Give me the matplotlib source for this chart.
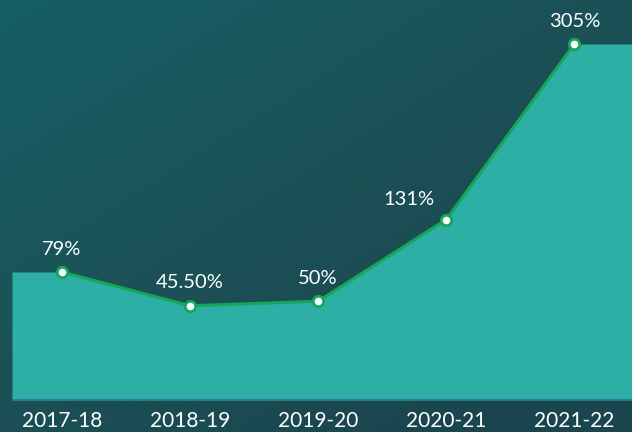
import matplotlib
matplotlib.use("Agg")
import matplotlib.pyplot as plt
import numpy as np
from matplotlib.colors import LinearSegmentedColormap

categories = ["2017-18", "2018-19", "2019-20", "2020-21", "2021-22"]
values = [79, 45.5, 50, 131, 305]
labels = ["79%", "45.50%", "50%", "131%", "305%"]

W, H = 632, 432
fig = plt.figure(figsize=(W / 100, H / 100), dpi=100)

# background gradient
bg = fig.add_axes([0, 0, 1, 1])
bg.set_axis_off()
yy, xx = np.mgrid[0:1:200j, 0:1:300j]
t = np.clip(0.55 * xx + 0.6 * yy, 0, 1)
cmap = LinearSegmentedColormap.from_list("bg", ["#155f65", "#1b5257", "#1b454e"])
bg.imshow(t, cmap=cmap, aspect="auto", extent=[0, 1, 0, 1], origin="upper")
bg.set_xlim(0, 1)
bg.set_ylim(0, 1)

ax = fig.add_axes([12 / W, 32 / H, 1 - 12 / W, 400 / H])
ax.patch.set_alpha(0)
x = np.arange(len(categories))
xmin, xmax = -0.39, 4.45
ymin, ymax = -47.9, 348.6
ax.set_xlim(xmin, xmax)
ax.set_ylim(ymin, ymax)

xs = np.concatenate([[xmin], x, [xmax]])
ys = np.concatenate([[values[0]], values, [values[-1]]])
ax.fill_between(xs, ys, ymin, color="#2eafa6", lw=0, zorder=1)
ax.plot(x, values, color="#16a658", lw=2.2, zorder=3,
        marker="o", ms=7.5, mfc="white", mec="#16a658", mew=2)
ax.axhline(ymin, color="#2a78a8", lw=1.5, zorder=2)

offsets = [(0, 16.5), (0, 16.5), (0, 16.5), (-27, 14.5), (0, 16.5)]
for xi, v, lab, off in zip(x, values, labels, offsets):
    ax.annotate(lab, (xi, v), xytext=off, textcoords="offset points",
                ha="center", va="center", color="white", fontsize=14.5,
                family="Lato", zorder=5)

for s in ax.spines.values():
    s.set_visible(False)
ax.set_xticks(x)
ax.set_xticklabels(categories, color="white", fontsize=15, family="Lato")
ax.tick_params(axis="x", length=0, pad=8)
ax.set_yticks([])

fig.savefig("out.png", dpi=100)
